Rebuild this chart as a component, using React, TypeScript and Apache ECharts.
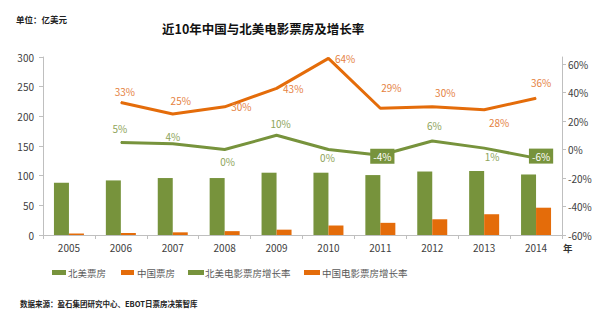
import React, { useEffect, useRef } from "react";
import * as echarts from "echarts";

const years = ["2005", "2006", "2007", "2008", "2009", "2010", "2011", "2012", "2013", "2014"];
const naBox = [88, 92, 96, 96, 105, 105, 101, 107, 108, 102];
const cnBox = [2.5, 3.5, 4.5, 6.5, 9, 16, 20.5, 26.5, 35, 46];
const naGrowth = [null, 5, 4, 0, 10, 0, -4, 6, 1, -6];
const cnGrowth = [null, 33, 25, 30, 43, 64, 29, 30, 28, 36];
const leftTicks = [0, 50, 100, 150, 200, 250, 300];
const rightTicks = [-60, -40, -20, 0, 20, 40, 60];
const seriesNames = ["北美票房", "中国票房", "北美电影票房增长率", "中国电影票房增长率"];

const GREEN = "#77933c";
const ORANGE = "#e46c0a";
const FONT = "'Noto Sans CJK SC', 'Noto Sans', sans-serif";

// label placement per point (position, offset)
const cnLabelPos: any[] = [
  null,
  ["top", [4, 0]],
  ["top", [8, -2]],
  ["right", [0, 0]],
  ["right", [0, 0]],
  ["right", [0, 0]],
  ["top", [11, -9]],
  ["top", [13, -3]],
  ["bottom", [15, 1]],
  ["top", [5, -4]],
];
const naLabelPos: any[] = [
  null,
  ["top", [-1, -3]],
  ["top", [0, 3]],
  ["bottom", [3, 1]],
  ["top", [4, -1]],
  ["bottom", [-1, -3]],
  ["box", [2, 1]],
  ["top", [2, -5]],
  ["bottom", [8, -2]],
  ["box", [5, -2]],
];

// legend layout: icon x, icon width, text x
const legendLayout = [
  [52, 14, 68],
  [121, 13, 137],
  [188, 16, 205],
  [304, 16, 322],
];
const legendColors = [GREEN, ORANGE, GREEN, ORANGE];

export default function App() {
  const ref = useRef<HTMLDivElement>(null);
  useEffect(() => {
    if (!ref.current) return;
    const chart = echarts.init(ref.current, null, { renderer: "svg" });

    const cnData = cnGrowth.map((v, i) => {
      if (v === null) return null;
      const [pos, off] = cnLabelPos[i];
      return {
        value: v,
        label: { show: true, position: pos, offset: off, distance: 6 },
      };
    });
    const naData = naGrowth.map((v, i) => {
      if (v === null) return null;
      const [pos, off] = naLabelPos[i];
      if (pos === "box") {
        return {
          value: v,
          label: {
            show: true,
            position: "inside",
            offset: off,
            color: "#fff",
            backgroundColor: GREEN,
            padding: [3, 3, 2, 3],
          },
        };
      }
      return {
        value: v,
        label: { show: true, position: pos, offset: off, distance: 5 },
      };
    });

    const legendGraphics: any[] = [];
    seriesNames.forEach((name, i) => {
      const [ix, iw, tx] = legendLayout[i];
      legendGraphics.push({
        type: "rect",
        shape: { x: ix, y: 270, width: iw, height: 5 },
        style: { fill: legendColors[i] },
      });
      legendGraphics.push({
        type: "text",
        x: tx,
        y: 272.5,
        style: {
          text: name,
          font: `9.5px ${FONT}`,
          fill: "#595959",
          textVerticalAlign: "middle",
        },
      });
    });

    chart.setOption({
      animation: false,
      textStyle: { fontFamily: FONT },
      title: {
        text: "近10年中国与北美电影票房及增长率",
        left: 157,
        top: 17,
        textStyle: { fontSize: 12.5, fontWeight: "bold", color: "#111", fontFamily: FONT },
      },
      legend: { show: false },
      grid: { left: 43, right: 38, top: 57, bottom: 87 },
      xAxis: {
        type: "category",
        data: years,
        boundaryGap: true,
        axisLine: { lineStyle: { color: "#bfbfbf" } },
        axisTick: { show: true, interval: 0, length: 4, lineStyle: { color: "#bfbfbf" } },
        axisLabel: { fontSize: 10, color: "#404040", margin: 7, fontFamily: FONT },
      },
      yAxis: [
        {
          type: "value",
          min: leftTicks[0],
          max: leftTicks[leftTicks.length - 1],
          interval: 50,
          splitLine: { show: false },
          axisLine: { show: true, lineStyle: { color: "#bfbfbf" } },
          axisTick: { show: true, length: 4, lineStyle: { color: "#bfbfbf" } },
          axisLabel: { fontSize: 10, color: "#404040", margin: 9, fontFamily: FONT },
        },
        {
          type: "value",
          min: rightTicks[0],
          max: 65,
          interval: 20,
          position: "right",
          splitLine: { show: false },
          axisLine: { show: true, lineStyle: { color: "#bfbfbf" } },
          axisTick: { show: true, length: 4, lineStyle: { color: "#bfbfbf" } },
          axisLabel: {
            fontSize: 10,
            color: "#404040",
            margin: 6,
            showMaxLabel: false,
            fontFamily: FONT,
            formatter: (v: number) => (rightTicks.includes(v) ? v + "%" : ""),
          },
        },
      ],
      series: [
        {
          name: seriesNames[0],
          type: "bar",
          data: naBox,
          barWidth: 15,
          barGap: "0%",
          itemStyle: { color: GREEN },
        },
        {
          name: seriesNames[1],
          type: "bar",
          data: cnBox,
          barWidth: 15,
          barGap: "0%",
          itemStyle: { color: ORANGE },
        },
        {
          name: seriesNames[2],
          type: "line",
          yAxisIndex: 1,
          data: naData,
          symbol: "circle",
          symbolSize: 1,
          showSymbol: true,
          lineStyle: { color: GREEN, width: 3 },
          itemStyle: { color: GREEN },
          label: { show: true, fontSize: 10, color: "#8ea45a", formatter: "{c}%", fontFamily: FONT },
          z: 5,
        },
        {
          name: seriesNames[3],
          type: "line",
          yAxisIndex: 1,
          data: cnData,
          symbol: "circle",
          symbolSize: 1,
          showSymbol: true,
          lineStyle: { color: ORANGE, width: 3 },
          itemStyle: { color: ORANGE },
          label: { show: true, fontSize: 10, color: "#e5823f", formatter: "{c}%", fontFamily: FONT },
          z: 5,
        },
      ],
      graphic: [
        {
          type: "text",
          left: 16,
          top: 15,
          style: { text: "单位：亿美元", font: `bold 8.5px ${FONT}`, fill: "#222" },
        },
        {
          type: "text",
          left: 563,
          top: 243,
          style: { text: "年", font: `bold 9.5px ${FONT}`, fill: "#333" },
        },
        {
          type: "text",
          left: 20,
          top: 300,
          style: { text: "数据来源：盈石集团研究中心、EBOT日票房决策智库", font: `bold 7.5px ${FONT}`, fill: "#222" },
        },
        ...legendGraphics,
      ],
    });
    return () => chart.dispose();
  }, []);
  return (
    <div
      ref={ref}
      style={{ position: "fixed", left: 0, top: 0, width: 600, height: 322, background: "#fff" }}
    />
  );
}
